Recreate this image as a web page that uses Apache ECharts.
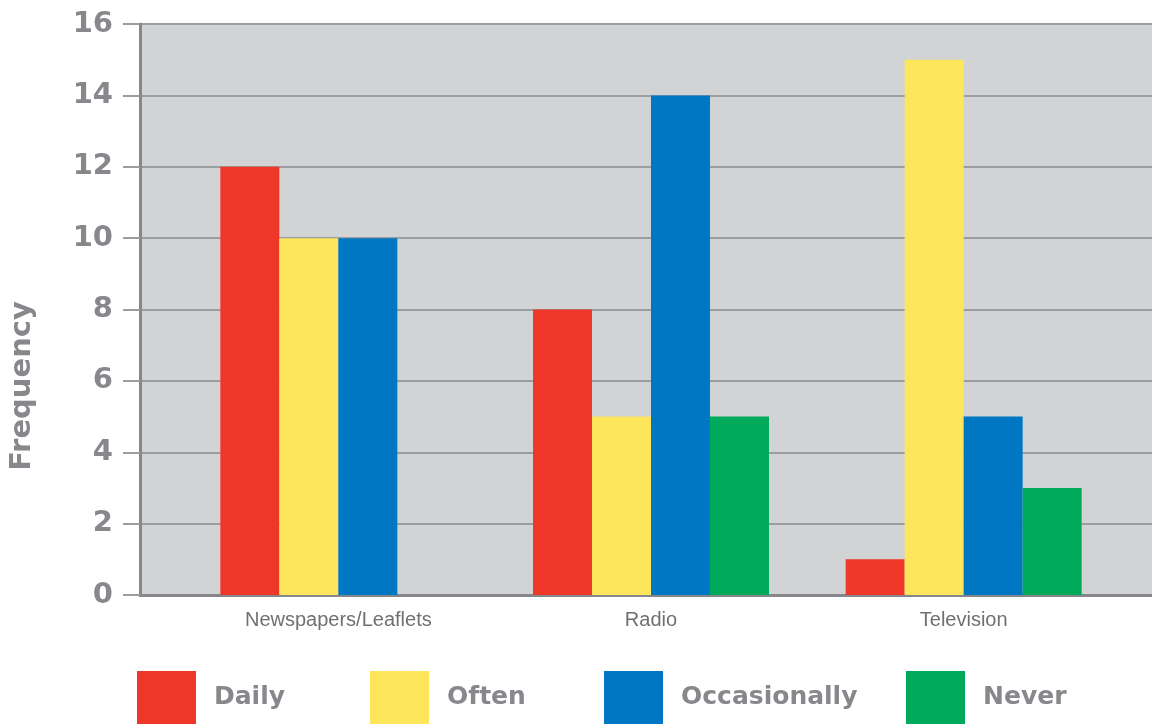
<!DOCTYPE html>
<html>
<head>
<meta charset="utf-8">
<script src="https://cdn.jsdelivr.net/npm/echarts@6/dist/echarts.min.js"></script>
<style>
  html, body { margin: 0; padding: 0; background: #ffffff; }
  #chart { width: 1152px; height: 724px; }
</style>
</head>
<body>
<div id="chart"></div>
<script>
// Media categories and how often each is used
const categories = ['Newspapers/Leaflets', 'Radio', 'Television'];
const seriesNames = ['Daily', 'Often', 'Occasionally', 'Never'];
const daily = [12, 8, 1];
const often = [10, 5, 15];
const occasionally = [10, 14, 5];
const never = [0, 5, 3];
const yTicks = [0, 2, 4, 6, 8, 10, 12, 14, 16];

const colors = ['#ee3729', '#fee65c', '#0077c3', '#00aa5b'];
const grey = '#87888c';

const chart = echarts.init(document.getElementById('chart'));

const valuesBySeries = [daily, often, occasionally, never];
const legendLeft = [137, 370, 604, 906];

const option = {
  animation: false,
  grid: [
    // frame: grey plot background, value axis and gridlines
    { left: 140, right: 0, top: 24, bottom: 129, show: true, backgroundColor: '#d2d3d5', borderWidth: 0 },
    // bars, laid out over the category band
    { left: 182, right: 32, top: 24, bottom: 129 }
  ],
  xAxis: [
    {
      gridIndex: 0, type: 'value', min: 0, max: 1,
      axisLine: { show: true, lineStyle: { color: '#86878a', width: 3 } },
      axisTick: { show: false }, axisLabel: { show: false }, splitLine: { show: false }
    },
    {
      gridIndex: 1, type: 'category', data: categories,
      axisLine: { show: false }, axisTick: { show: false },
      axisLabel: { color: '#6f7073', fontFamily: 'Liberation Sans', fontSize: 20, margin: 15 }
    }
  ],
  yAxis: [
    {
      gridIndex: 0, type: 'value', min: yTicks[0], max: yTicks[yTicks.length - 1], interval: 2,
      axisLine: { show: true, lineStyle: { color: '#86878a', width: 3 } },
      axisTick: { show: true, length: 17, lineStyle: { color: '#9c9da0', width: 2 } },
      axisLabel: { color: grey, fontFamily: 'DejaVu Sans', fontWeight: 'bold', fontSize: 29, margin: 27 },
      splitLine: { show: true, lineStyle: { color: '#9c9da0', width: 2 } }
    },
    {
      gridIndex: 1, type: 'value', min: yTicks[0], max: yTicks[yTicks.length - 1], interval: 2,
      show: false, splitLine: { show: false }
    }
  ],
  legend: seriesNames.map((name, i) => ({
    data: [{ name: name, icon: 'rect' }],
    left: legendLeft[i], top: 671, padding: 0,
    itemWidth: 59, itemHeight: 53,
    textStyle: { color: grey, fontFamily: 'DejaVu Sans', fontWeight: 'bold', fontSize: 25, padding: [7, 0, 0, 13] }
  })),
  graphic: [
    {
      type: 'text', x: 22, y: 386, rotation: Math.PI / 2,
      style: {
        text: 'Frequency', fill: grey, fontFamily: 'DejaVu Sans', fontWeight: 'bold', fontSize: 29,
        textAlign: 'center', textVerticalAlign: 'middle'
      }
    }
  ],
  series: seriesNames.map((name, i) => ({
    name: name, type: 'bar', xAxisIndex: 1, yAxisIndex: 1,
    data: valuesBySeries[i], barWidth: 59, barGap: '0%',
    itemStyle: { color: colors[i] }
  }))
};

chart.setOption(option);
</script>
</body>
</html>
